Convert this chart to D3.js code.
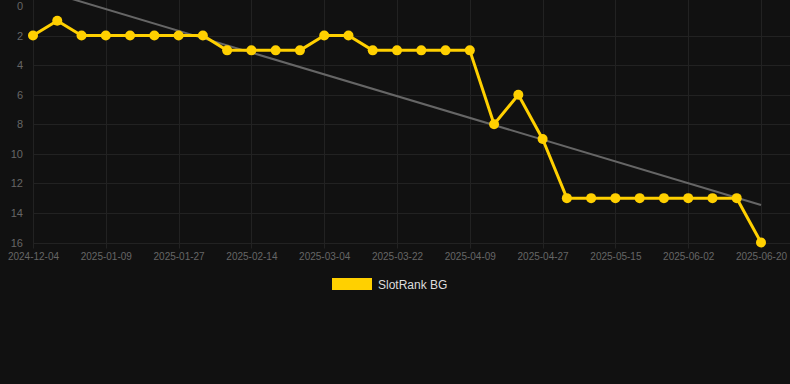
<!DOCTYPE html>
<html lang="en">
<head>
    <meta charset="UTF-8" />
    <title>SlotRank BG</title>
    <script src="https://d3js.org/d3.v7.min.js"></script>
    <style>
        body {
            margin: 0;
            background: #111111;
            font-family: Arial, "Liberation Sans", sans-serif;
        }
        svg { display: block; }
        .grid line { stroke: #222222; stroke-width: 1; }
        .axis text { fill: #666666; }
        .axis path, .axis line { display: none; }
    </style>
</head>
<body>
<script>
    // dates (category axis, every 3rd labelled)
    const dates = [
        "2024-12-04", "2024-12-16", "2024-12-28", "2025-01-09", "2025-01-15", "2025-01-21",
        "2025-01-27", "2025-02-02", "2025-02-08", "2025-02-14", "2025-02-20", "2025-02-26",
        "2025-03-04", "2025-03-10", "2025-03-16", "2025-03-22", "2025-03-28", "2025-04-03",
        "2025-04-09", "2025-04-15", "2025-04-21", "2025-04-27", "2025-05-03", "2025-05-09",
        "2025-05-15", "2025-05-21", "2025-05-27", "2025-06-02", "2025-06-08", "2025-06-14",
        "2025-06-20"
    ];
    // rank values
    const ranks = [
        2, 1, 2, 2, 2, 2, 2, 2, 3, 3, 3, 3, 2, 2, 3, 3, 3, 3, 3,
        8, 6, 9, 13, 13, 13, 13, 13, 13, 13, 13, 16
    ];
    const yTicks = [0, 2, 4, 6, 8, 10, 12, 14, 16];
    const seriesName = "SlotRank BG";

    const width = 790, height = 384;
    const plotL = 33, plotR = 761, plotT = 6, plotB = 242.5;

    const svg = d3.select('body').append('svg')
        .attr('width', width).attr('height', height);

    const x = d3.scalePoint().domain(dates).range([plotL, plotR]);
    const y = d3.scaleLinear().domain([0, 16]).range([plotT, plotB]);

    const labelled = dates.filter((d, i) => i % 3 === 0);

    // grid (no line drawn at 0)
    const grid = svg.append('g').attr('class', 'grid');
    grid.selectAll('.h').data(yTicks.filter(t => t > 0)).enter().append('line')
        .attr('x1', plotL).attr('x2', width)
        .attr('y1', d => Math.round(y(d)) + 0.5).attr('y2', d => Math.round(y(d)) + 0.5);
    grid.selectAll('.v').data(labelled).enter().append('line')
        .attr('x1', d => Math.round(x(d)) + 0.5).attr('x2', d => Math.round(x(d)) + 0.5)
        .attr('y1', 0).attr('y2', plotB + 6);

    // axes
    svg.append('g').attr('class', 'axis')
        .attr('transform', `translate(0,${plotB})`)
        .call(d3.axisBottom(x).tickValues(labelled).tickSize(0).tickPadding(10))
        .selectAll('text').style('font-size', '10px');

    svg.append('g').attr('class', 'axis')
        .attr('transform', `translate(${plotL},0)`)
        .call(d3.axisLeft(y).tickValues(yTicks).tickSize(0).tickPadding(10))
        .selectAll('text').style('font-size', '11px');

    // linear trend (least squares on index)
    const n = ranks.length;
    const mx = d3.mean(ranks, (d, i) => i);
    const my = d3.mean(ranks);
    let sxy = 0, sxx = 0;
    ranks.forEach((v, i) => { sxy += (i - mx) * (v - my); sxx += (i - mx) * (i - mx); });
    const slope = sxy / sxx;
    const icpt = my - slope * mx;

    svg.append('line')
        .attr('x1', x(dates[0])).attr('y1', y(icpt))
        .attr('x2', x(dates[n - 1])).attr('y2', y(icpt + slope * (n - 1)))
        .attr('stroke', '#666666').attr('stroke-width', 2);

    // series
    const pts = dates.map((d, i) => ({ d: d, v: ranks[i] }));
    svg.append('path').datum(pts)
        .attr('fill', 'none')
        .attr('stroke', '#ffd000')
        .attr('stroke-width', 3)
        .attr('stroke-linejoin', 'round')
        .attr('d', d3.line().x(p => x(p.d)).y(p => y(p.v)));

    svg.selectAll('circle').data(pts).enter().append('circle')
        .attr('cx', p => x(p.d)).attr('cy', p => y(p.v))
        .attr('r', 5).attr('fill', '#ffd000');

    // legend
    const lg = svg.append('g').attr('transform', 'translate(332,278)');
    lg.append('rect').attr('width', 40).attr('height', 12).attr('fill', '#ffd000');
    lg.append('text').attr('x', 46).attr('y', 10.5)
        .attr('fill', '#dddddd').style('font-size', '12px').text(seriesName);
</script>
</body>
</html>
